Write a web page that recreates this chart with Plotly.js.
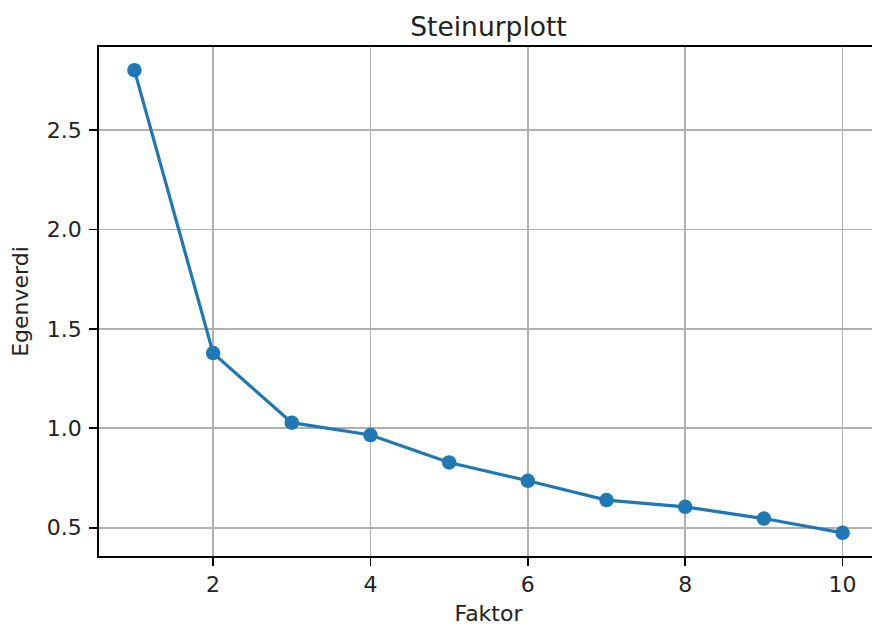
<!DOCTYPE html>
<html>
<head>
<meta charset="utf-8">
<script src="https://cdn.plot.ly/plotly-3.0.1.min.js"></script>
<style>
html, body { margin: 0; padding: 0; overflow: hidden; background: #fff; }
#chart { width: 880px; height: 628px; }
</style>
</head>
<body>
<div id="chart"></div>
<script>
const factors = [1, 2, 3, 4, 5, 6, 7, 8, 9, 10];
const eigenvalues = [2.801, 1.378, 1.028, 0.966, 0.828, 0.736, 0.639, 0.605, 0.546, 0.474];
const xTickValues = [2, 4, 6, 8, 10];
const yTickValues = [0.5, 1.0, 1.5, 2.0, 2.5];
const yTickLabels = ['0.5', '1.0', '1.5', '2.0', '2.5'];

const xMin = Math.min(...factors), xMax = Math.max(...factors);
const yMin = Math.min(...eigenvalues), yMax = Math.max(...eigenvalues);
const xPad = 0.05 * (xMax - xMin), yPad = 0.05 * (yMax - yMin);

const FONT = 'DejaVu Sans';
const trace = {
  x: factors,
  y: eigenvalues,
  type: 'scatter',
  mode: 'lines+markers',
  line: { color: '#1f77b4', width: 3.2 },
  marker: { color: '#1f77b4', size: 14.5 },
  showlegend: false,
  hoverinfo: 'x+y'
};

const axisCommon = {
  showgrid: true,
  gridcolor: '#b0b0b0',
  gridwidth: 1.8,
  showline: true,
  linecolor: '#000',
  linewidth: 1.8,
  mirror: true,
  ticks: 'outside',
  ticklen: 8,
  tickwidth: 1.8,
  tickcolor: '#000',
  zeroline: false,
  tickfont: { family: FONT, size: 22, color: '#222' }
};

const layout = {
  width: 880,
  height: 628,
  margin: { l: 99, r: 2, t: 47, b: 72 },
  paper_bgcolor: '#fff',
  plot_bgcolor: '#fff',
  title: {
    text: 'Steinurplott',
    font: { family: FONT, size: 26.5, color: '#222' },
    x: 0.5, xref: 'paper', xanchor: 'center',
    y: 1, yref: 'paper', yanchor: 'bottom', pad: { b: 11 }
  },
  xaxis: Object.assign({}, axisCommon, {
    range: [xMin - xPad, xMax + xPad],
    tickvals: xTickValues,
    ticktext: xTickValues.map(String),
    title: { text: 'Faktor', font: { family: FONT, size: 22, color: '#222' }, standoff: 9 }
  }),
  yaxis: Object.assign({}, axisCommon, {
    range: [yMin - yPad, yMax + yPad],
    tickvals: yTickValues,
    ticktext: yTickLabels,
    ticklabelstandoff: 3,
    title: { text: 'Egenverdi', font: { family: FONT, size: 22, color: '#222' }, standoff: 12 }
  })
};

Plotly.newPlot('chart', [trace], layout, { displayModeBar: false, staticPlot: true });
</script>
</body>
</html>
